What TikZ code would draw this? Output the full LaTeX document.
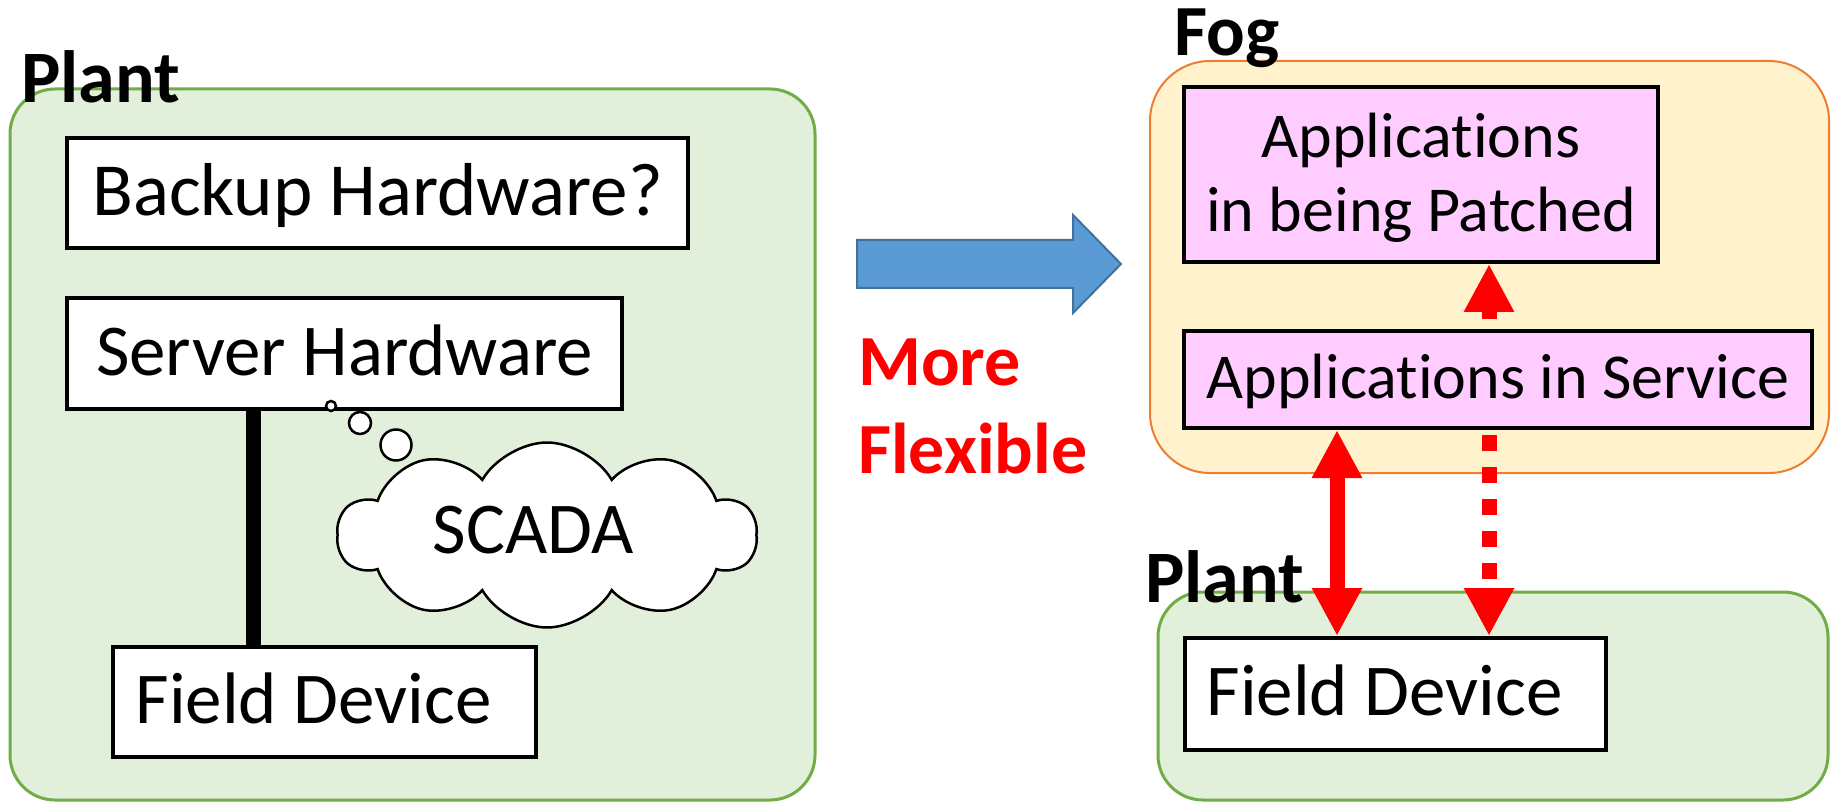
\documentclass[tikz,border=0pt]{standalone}
\usepackage{fontspec}
\setmainfont{Carlito}[Ligatures=CommonOff]
\usetikzlibrary{arrows.meta,shapes.symbols}

\definecolor{plantfill}{HTML}{E2EFDA}
\definecolor{plantline}{HTML}{70AD47}
\definecolor{fogfill}{HTML}{FFF2CC}
\definecolor{fogline}{HTML}{ED7D31}
\definecolor{appfill}{HTML}{FFCCFF}
\definecolor{flowfill}{HTML}{5B9BD5}
\definecolor{flowline}{HTML}{41719C}
\definecolor{linkred}{HTML}{FF0000}

\begin{document}
\begin{tikzpicture}[x=1pt,y=-1pt,
  plantzone/.style={draw=plantline, fill=plantfill, line width=3pt, rounded corners=45pt},
  fogzone/.style={draw=fogline, fill=fogfill, line width=2pt, rounded corners=60pt},
  zonelabel/.style={anchor=base west, inner sep=0pt,
    font=\fontsize{74pt}{80pt}\selectfont\bfseries},
  redlabel/.style={anchor=base west, inner sep=0pt, text=linkred,
    font=\fontsize{72pt}{80pt}\selectfont\bfseries},
  bigtext/.style={font=\fontsize{73pt}{74pt}\selectfont},
  unit/.style={bigtext, draw=black, line width=4pt, fill=white, inner sep=0pt, align=center},
  oneline/.style={text height=52pt, text depth=9pt},
  app/.style={unit, fill=appfill, font=\fontsize{64pt}{74pt}\selectfont},
  appline/.style={text height=46pt, text depth=8pt},
  bubble/.style={circle, draw=black, fill=white, line width=2.5pt, inner sep=0pt},
  link/.style={draw=linkred, line width=15pt},
  headend/.style={-{Triangle[length=48pt 0 0, width=47pt 0 0]}},
  headboth/.style={{Triangle[length=48pt 0 0, width=47pt 0 0]}-{Triangle[length=48pt 0 0, width=47pt 0 0]}},
  dotted link/.style={link, dash pattern=on 16pt off 16pt}
]
\useasboundingbox (0,0) rectangle (1831,802);

% zones
\draw[plantzone] (10,89) rectangle (815,800);
\draw[fogzone] (1150,61) rectangle (1829,473);
\draw[plantzone] (1158,592) rectangle (1828,800);

% left side: classic plant
\node[unit, font=\fontsize{75pt}{80pt}\selectfont, text height=54pt, text depth=9pt,
  minimum width=621pt, minimum height=110pt] (backup) at (377.5,193) {Backup Hardware?};
\node[unit, oneline, minimum width=555pt, minimum height=111pt] (server) at (344.5,353.5) {Server Hardware};
\node[unit, oneline, minimum width=423pt, minimum height=110pt] (fieldL) at (324.5,702) {Field Device\hspace{22pt}};
\coordinate (stem) at (253,0);
\draw[line width=15pt] (server.south -| stem) -- (fieldL.north -| stem);

% thought bubble
\node[bubble, minimum size=10pt] (b1) at (331,406) {};
\node[bubble, minimum size=22pt] (b2) at (360,423) {};
\node[bubble, minimum size=31pt] (b3) at (396,445) {};
\node[cloud, cloud puffs=10, cloud puff arc=120, cloud ignores aspect, draw=black, fill=white, line width=2.5pt,
  minimum width=419pt, minimum height=185pt, inner sep=0pt] (scada) at (547,535) {};
\node[bigtext, inner sep=0pt, text height=52pt, text depth=9pt] (scadatext) at (533,532) {SCADA};

% transition arrow
\fill[flowfill, draw=flowline, line width=2pt]
  (857,240) -- (1073,240) -- (1073,215) -- (1121,264) -- (1073,313) -- (1073,288) -- (857,288) -- cycle;
\node[redlabel] (more) at (858,385) {More};
\node[redlabel] (flex) at (858,473) {Flexible};

% right side: fog and plant
\node[app, minimum width=474pt, minimum height=175pt] (patch) at (1421,174.5) {\rule{0pt}{52pt}Applications\\in being Patched};
\node[app, appline, minimum width=628pt, minimum height=97pt] (svc) at (1498,379.5) {Applications in Service};
\node[unit, oneline, minimum width=421pt, minimum height=112pt] (fieldR) at (1395.5,694) {Field Device\hspace{22pt}};

% zone labels
\node[zonelabel] (plantL) at (21,103) {Plant};
\node[zonelabel, font=\fontsize{72pt}{80pt}\selectfont\bfseries] (fog) at (1174,56) {Fog};
\node[zonelabel] (plantR) at (1145,602) {Plant};

% links
\coordinate (solidx) at (1337,0);
\coordinate (dotx) at (1489,0);
\draw[link, headboth] (svc.south -| solidx) -- (fieldR.north -| solidx);
\draw[dotted link, dash phase=22pt, headend] (svc.north -| dotx) -- (patch.south -| dotx);
\draw[dotted link, dash phase=27pt, headend] (svc.south -| dotx) -- (fieldR.north -| dotx);
\end{tikzpicture}
\end{document}
